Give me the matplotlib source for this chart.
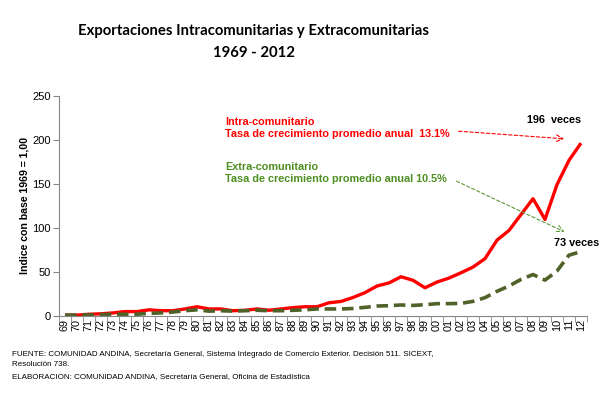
import matplotlib.pyplot as plt
import numpy as np

years = ['69', '70', '71', '72', '73', '74', '75', '76', '77', '78', '79',
         '80', '81', '82', '83', '84', '85', '86', '87', '88', '89', '90',
         '91', '92', '93', '94', '95', '96', '97', '98', '99', '00', '01',
         '02', '03', '04', '05', '06', '07', '08', '09', '10', '11', '12']
intra = [1, 1, 2, 2.5, 3.5, 5, 5, 7, 6, 6, 8, 10.5, 8, 8, 6, 6.5, 8, 6.5,
         8, 9.5, 10.5, 10.5, 15, 16.5, 21, 26.5, 34, 37.5, 44.5, 40.5, 32,
         38.5, 43, 49, 55.5, 65, 86, 97, 115, 133, 109.5, 149, 176.5, 196]
extra = [1, 1, 1.2, 1.5, 2, 2, 2, 3, 3.5, 4.5, 6, 7, 5.5, 6, 5.5, 6, 6.5, 6,
         6, 6.5, 7, 8, 8, 8, 8.5, 9.8, 11.3, 11.7, 12.5, 12, 12.8, 14, 14,
         14.3, 16.6, 20.8, 28, 34, 41.5, 47, 40.7, 51, 69, 73]

RED = '#FF0000'
GREEN_LINE = '#4F6228'
GREEN_TXT = '#4E8F22'

fig = plt.figure(figsize=(6.14, 3.96), dpi=100)
ax = fig.add_axes([59 / 614, 1 - 316 / 396, 528 / 614, 220.5 / 396])

x = np.arange(len(years))
ax.plot(x, intra, color=RED, lw=2.4, solid_capstyle='butt')
ax.plot(x, extra, color=GREEN_LINE, lw=2.6, dashes=(3.2, 1.6))

ax.set_xlim(-0.5, len(years) - 0.5)
ax.set_ylim(0, 250)
ax.set_yticks(range(0, 251, 50))
ax.set_xticks(x)
ax.set_xticklabels(years, rotation=90, family='Liberation Sans', fontsize=7.8)
ax.set_xticks(np.arange(-0.5, len(years), 1), minor=True)
ax.tick_params(axis='x', which='major', length=0, pad=2)
ax.tick_params(axis='x', which='minor', length=4, color='#868686')
ax.tick_params(axis='y', length=4, color='#868686', labelsize=8, pad=2)
for lab in ax.get_yticklabels():
    lab.set_family('Liberation Sans')
for s in ['top', 'right']:
    ax.spines[s].set_visible(False)
for s in ['left', 'bottom']:
    ax.spines[s].set_color('#868686')

ax.set_ylabel('Indice con base 1969 = 1,00', family='Liberation Sans',
              fontsize=7.6, fontweight='bold', labelpad=2)

fig.text(254 / 614, 1 - 31 / 396, 'Exportaciones Intracomunitarias y Extracomunitarias',
         ha='center', va='center', family='Lato', fontweight='bold', fontsize=10.7)
fig.text(254 / 614, 1 - 53 / 396, '1969 - 2012', ha='center', va='center',
         family='Lato', fontweight='bold', fontsize=10.7)

tf = dict(family='Liberation Sans', fontsize=7.8, fontweight='bold', va='center')
fig.text(225 / 614, 1 - 122 / 396, 'Intra-comunitario', color=RED, **tf)
fig.text(225 / 614, 1 - 134 / 396, 'Tasa de crecimiento promedio anual  13.1%', color=RED, **tf)
fig.text(225 / 614, 1 - 167 / 396, 'Extra-comunitario', color=GREEN_TXT, **tf)
fig.text(225 / 614, 1 - 179 / 396, 'Tasa de crecimiento promedio anual 10.5%', color=GREEN_TXT, **tf)
fig.text(527 / 614, 1 - 120 / 396, '196  veces', color='black', **tf)
fig.text(554 / 614, 1 - 243 / 396, '73 veces', color='black', **tf)

ax.annotate('', xy=(567 / 614, 1 - 139 / 396), xytext=(456 / 614, 1 - 131 / 396),
            xycoords='figure fraction', textcoords='figure fraction',
            arrowprops=dict(arrowstyle='->', color=RED, lw=0.8, ls=(0, (3, 2)),
                            mutation_scale=12))
ax.annotate('', xy=(567 / 614, 1 - 233 / 396), xytext=(454 / 614, 1 - 180 / 396),
            xycoords='figure fraction', textcoords='figure fraction',
            arrowprops=dict(arrowstyle='->', color='#5E9A3A', lw=0.8, ls=(0, (3, 2)),
                            mutation_scale=12))

ff = dict(family='Liberation Sans', fontsize=5.8, va='center')
fig.text(12 / 614, 1 - 354 / 396,
         'FUENTE: COMUNIDAD ANDINA, Secretaría General, Sistema Integrado de Comercio Exterior. Decisión 511. SICEXT,', **ff)
fig.text(12 / 614, 1 - 365 / 396, 'Resolución 738.', **ff)
fig.text(12 / 614, 1 - 377 / 396,
         'ELABORACION: COMUNIDAD ANDINA, Secretaría General, Oficina de Estadística', **ff)

fig.savefig('out.png', dpi=100)
